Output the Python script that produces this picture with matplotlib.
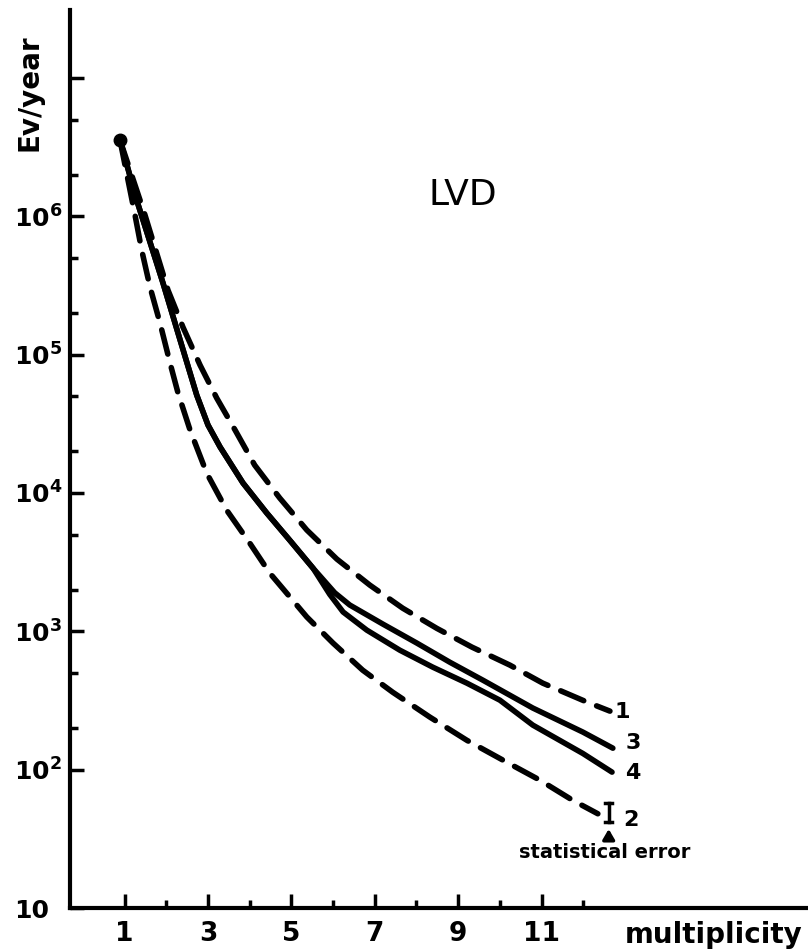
import matplotlib
matplotlib.use("Agg")
import matplotlib.pyplot as plt
from matplotlib.ticker import FixedLocator, NullFormatter

# values (x = multiplicity, y = events per year)
x1 = [0.89, 1.49, 2.04, 2.40, 2.81, 3.21, 3.65, 4.12, 4.72, 5.37, 6.09, 6.88,
      7.67, 8.49, 9.33, 10.24, 11.03, 12.09, 12.64]
y1 = [3.56e6, 1.02e6, 2.93e5, 1.58e5, 8.4e4, 4.85e4, 2.85e4, 1.59e4, 9.2e3,
      5.4e3, 3.33e3, 2.16e3, 1.47e3, 1.05e3, 769, 570, 422, 308, 265]

x2 = [0.89, 1.25, 1.41, 1.61, 1.85, 2.09, 2.28, 2.57, 2.97, 3.45, 4.00, 4.48,
      5.37, 6.00, 6.71, 7.43, 8.32, 9.21, 10.17, 10.96, 11.75, 12.35]
y2 = [3.56e6, 1.02e6, 5.7e5, 3.08e5, 1.69e5, 8.7e4, 5.3e4, 2.85e4, 1.39e4,
      7.5e3, 4.35e3, 2.64e3, 1.27e3, 822, 524, 363, 240, 163, 113, 84, 60, 48]

x_common = [0.89, 1.29, 1.92, 2.33, 2.73, 3.00, 3.29, 3.84, 4.41, 4.96, 5.52]
y_common = [3.56e6, 1.31e6, 3.30e5, 1.28e5, 5.1e4, 3.1e4, 2.15e4, 1.18e4,
            7.16e3, 4.56e3, 2.86e3]

x3 = x_common + [6.04, 6.40, 7.19, 8.01, 8.80, 9.59, 10.79, 11.99, 12.71]
y3 = y_common + [1.9e3, 1.55e3, 1.13e3, 822, 598, 444, 279, 187, 143]

x4 = x_common + [5.92, 6.24, 6.81, 7.60, 8.39, 9.21, 10.00, 10.79, 11.99, 12.69]
y4 = y_common + [1.85e3, 1.38e3, 1.02e3, 731, 551, 422, 318, 210, 131, 96]

curve_labels = ["1", "3", "4", "2"]
label_x = [12.93, 13.19, 13.19, 13.14]
label_y = [261, 156, 94, 43]

err_x = 12.61
err_lo, err_hi = 42, 57

x_major = [1, 3, 5, 7, 9, 11]
x_minor = [2, 4, 6, 8, 10, 12]
y_major = [10, 1e2, 1e3, 1e4, 1e5, 1e6, 1e7]
y_major_labels = ["10", r"$\mathbf{10^2}$", r"$\mathbf{10^3}$", r"$\mathbf{10^4}$",
                  r"$\mathbf{10^5}$", r"$\mathbf{10^6}$", ""]
y_minor = [2e2, 5e2, 2e3, 5e3, 2e4, 5e4, 2e5, 5e5, 2e6, 5e6]

fig = plt.figure(figsize=(8.08, 9.52), dpi=100)
ax = fig.add_axes([0.0866, 0.0462, 0.9134, 0.9433])
ax.set_yscale("log")
ax.set_xlim(-0.31, 17.39)
ax.set_ylim(10, 3.1e7)

lw = 4
dash = (4.5, 2.5)
ax.plot(x1, y1, color="black", lw=lw, dashes=dash, dash_capstyle="round",
        solid_joinstyle="round")
ax.plot(x2, y2, color="black", lw=lw, dashes=dash, dash_capstyle="round",
        solid_joinstyle="round")
ax.plot(x3, y3, color="black", lw=lw, solid_capstyle="round", solid_joinstyle="round")
ax.plot(x4, y4, color="black", lw=lw, solid_capstyle="round", solid_joinstyle="round")
ax.plot([x1[0]], [y1[0]], "o", color="black", ms=9)

for t, lx, ly in zip(curve_labels, label_x, label_y):
    ax.text(lx, ly, t, fontsize=16, fontweight="bold", ha="center", va="center")

# statistical error bar + arrow + note
ax.plot([err_x, err_x], [err_lo, err_hi], color="black", lw=2.5)
ax.plot([err_x - 0.08, err_x + 0.08], [err_hi, err_hi], color="black", lw=2.5)
ax.plot([err_x - 0.08, err_x + 0.08], [err_lo, err_lo], color="black", lw=2.5)
ax.annotate("", xy=(err_x, 39), xytext=(err_x, 29.5),
            arrowprops=dict(arrowstyle="-|>,head_width=0.35,head_length=0.6",
                            color="black", lw=2.5))
ax.text(12.52, 25.3, "statistical error", fontsize=14, fontweight="heavy",
        ha="center", va="center")

ax.text(9.1, 1.43e6, "LVD", fontsize=26, ha="center", va="center")

# axes styling
for s in ["top", "right"]:
    ax.spines[s].set_visible(False)
for s in ["left", "bottom"]:
    ax.spines[s].set_linewidth(3)

ax.xaxis.set_major_locator(FixedLocator(x_major))
ax.xaxis.set_minor_locator(FixedLocator(x_minor))
ax.set_xticklabels([str(v) for v in x_major], fontsize=19, fontweight="bold")
ax.xaxis.set_minor_formatter(NullFormatter())

ax.yaxis.set_major_locator(FixedLocator(y_major))
ax.yaxis.set_minor_locator(FixedLocator(y_minor))
ax.set_yticklabels(y_major_labels, fontsize=18, fontweight="bold")
ax.yaxis.set_minor_formatter(NullFormatter())

ax.tick_params(which="major", direction="in", length=10, width=2.5)
ax.tick_params(which="minor", direction="in", length=6, width=2.5)
ax.tick_params(axis="x", which="major", pad=9)
ax.tick_params(axis="y", which="major", pad=40)
for lab in ax.get_yticklabels():
    lab.set_horizontalalignment("left")

fig.text(30 / 808, 1 - 93 / 952, "Ev/year", rotation=90, fontsize=20,
         fontweight="bold", ha="center", va="center")
fig.text(714 / 808, 1 - 935 / 952, "multiplicity", fontsize=20,
         fontweight="bold", ha="center", va="center")

fig.savefig("out.png", dpi=100)
